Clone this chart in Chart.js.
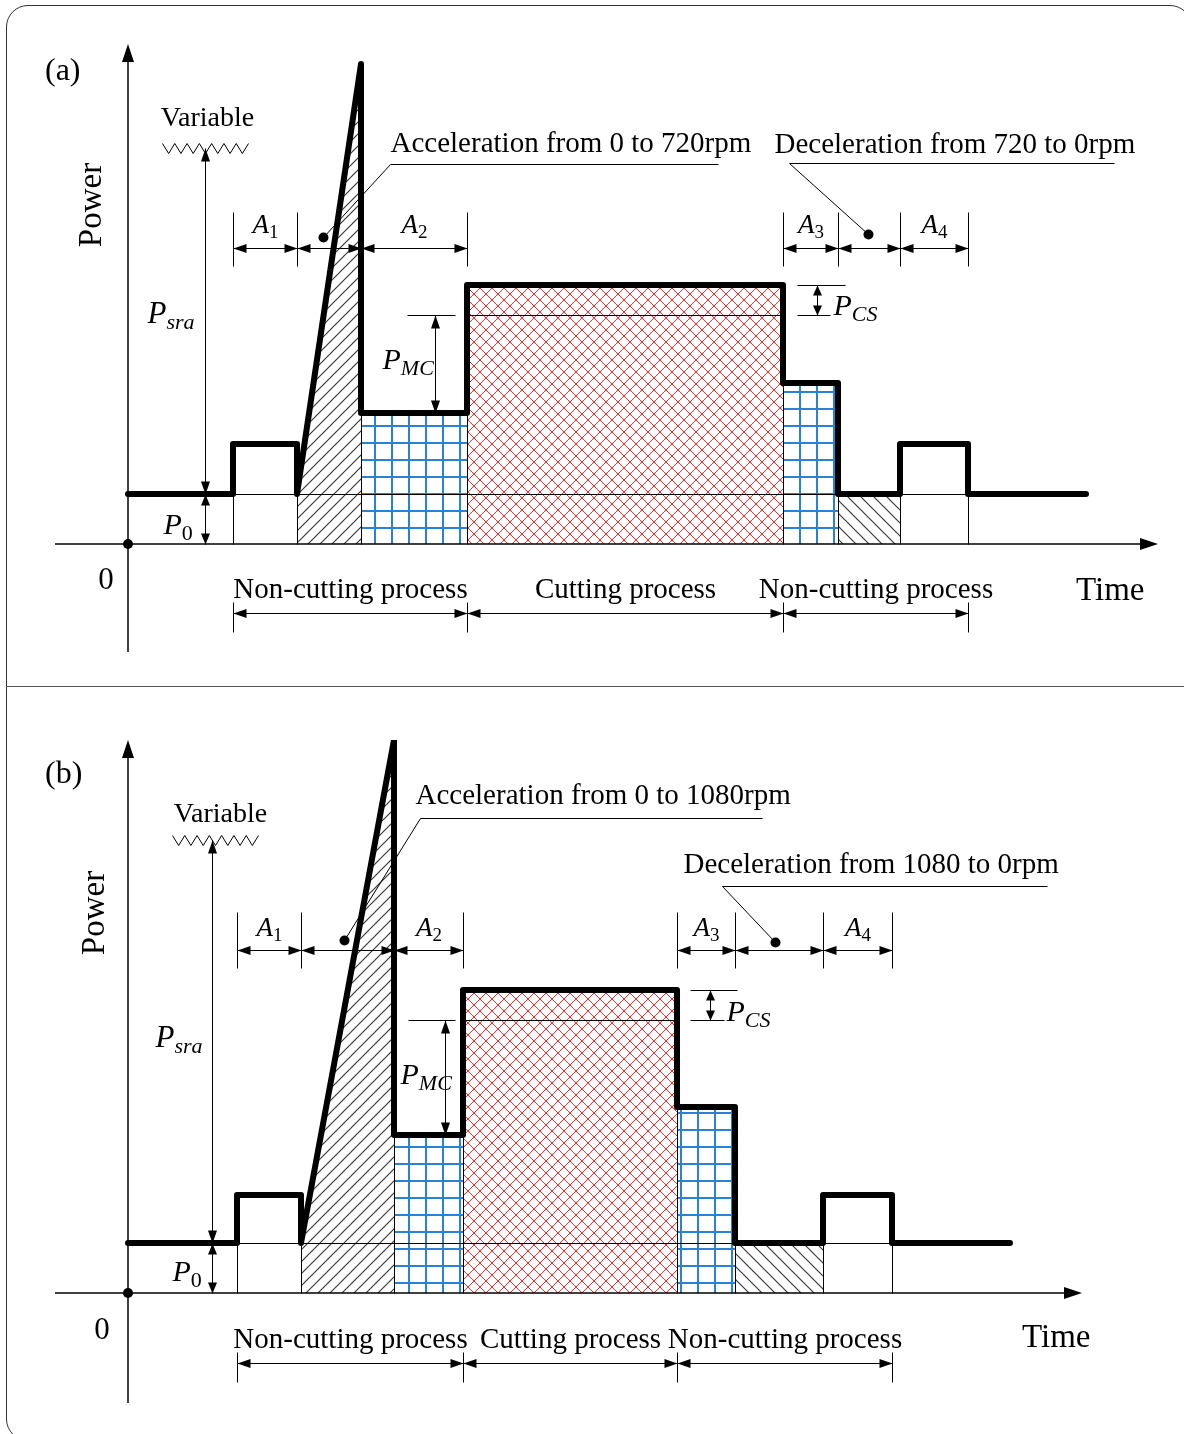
<!DOCTYPE html>
<html>
<head>
<meta charset="utf-8">
<script src="https://cdn.jsdelivr.net/npm/chart.js@4.4.0/dist/chart.umd.min.js"></script>
<style>
  body { margin:0; background:#fff; width:1184px; height:1434px; overflow:hidden; position:relative; }
  #frame { position:absolute; left:6px; top:5px; width:1186px; height:1436px; border:1.5px solid #333; border-radius:22px; box-sizing:border-box; }
  #divider { position:absolute; left:6px; top:686px; width:1184px; border-top:1.5px solid #555; }
  canvas { position:absolute; left:0; }
  #chartA { top:0; }
  #chartB { top:687px; }
</style>
</head>
<body>
<div id="frame"></div>
<div id="divider"></div>
<canvas id="chartA" width="1184" height="687"></canvas>
<canvas id="chartB" width="1184" height="747"></canvas>
<script>
// power curve of each panel (time, power) in schematic units
const timeA  = [0, 10.5, 10.5, 16.9, 16.9, 23.3, 23.3, 33.9, 33.9, 65.5, 65.5, 71.0, 71.0, 77.2, 77.2, 84.0, 84.0, 95.8];
const powerA = [5, 5, 10, 10, 5, 48, 13.1, 13.1, 25.9, 25.9, 16.1, 16.1, 5, 5, 10, 10, 5, 5];
const timeB  = [0, 10.9, 10.9, 17.3, 17.3, 26.6, 26.6, 33.5, 33.5, 54.9, 54.9, 60.7, 60.7, 69.5, 69.5, 76.4, 76.4, 88.2];
const powerB = [5, 5, 9.8, 9.8, 5, 55.3, 15.8, 15.8, 30.3, 30.3, 18.6, 18.6, 5, 5, 9.8, 9.8, 5, 5];
const levelsA = [5, 22.9];   // P0, cutting level minus P_CS
const levelsB = [5, 27.3];

const processNames = ['Non-cutting process', 'Cutting process', 'Non-cutting process'];
const stageNames = [['A','1'], null, ['A','2'], ['A','3'], null, ['A','4']];
const accelTexts = ['Acceleration from 0 to 720rpm', 'Acceleration from 0 to 1080rpm'];
const decelTexts = ['Deceleration from 720 to 0rpm', 'Deceleration from 1080 to 0rpm'];
const axisTitles = ['Power', 'Time', '0'];
const panelTags = ['(a)', '(b)'];

const FF = '"Liberation Serif","Times New Roman",serif';

function seg(ctx, x1, y1, x2, y2) {
  ctx.beginPath(); ctx.moveTo(x1, y1); ctx.lineTo(x2, y2); ctx.stroke();
}
function head(ctx, x, y, dx, dy, L, W) {
  L = L || 13; W = W || 4.5;
  ctx.beginPath();
  ctx.moveTo(x, y);
  ctx.lineTo(x - dx*L - dy*W, y - dy*L + dx*W);
  ctx.lineTo(x - dx*L + dy*W, y - dy*L - dx*W);
  ctx.closePath(); ctx.fill();
}
function dimH(ctx, x1, x2, y) {
  seg(ctx, x1, y, x2, y); head(ctx, x1, y, -1, 0); head(ctx, x2, y, 1, 0);
}
function dimV(ctx, x, y1, y2, L) {
  seg(ctx, x, y1, x, y2); head(ctx, x, y1, 0, -1, L); head(ctx, x, y2, 0, 1, L);
}
function text(ctx, s, x, y, size, align) {
  ctx.font = size + 'px ' + FF; ctx.textAlign = align || 'left'; ctx.textBaseline = 'alphabetic';
  ctx.fillText(s, x, y);
}
function sym(ctx, base, sub, x, y, size, subItalic, align) {
  const subSize = Math.round(size * 0.72);
  ctx.textBaseline = 'alphabetic'; ctx.textAlign = 'left';
  ctx.font = 'italic ' + size + 'px ' + FF;
  const w1 = ctx.measureText(base).width;
  ctx.font = (subItalic ? 'italic ' : '') + subSize + 'px ' + FF;
  const w2 = ctx.measureText(sub).width;
  const x0 = align === 'center' ? x - (w1 + w2) / 2 : x;
  ctx.font = 'italic ' + size + 'px ' + FF;
  ctx.fillText(base, x0, y);
  ctx.font = (subItalic ? 'italic ' : '') + subSize + 'px ' + FF;
  ctx.fillText(sub, x0 + w1, y + size * 0.22);
}

const schematic = {
  id: 'schematic',
  beforeDatasetDraw(chart, args, o) {
    if (args.index !== 0) return;
    const ctx = chart.ctx, X = v => chart.scales.x.getPixelForValue(v), Y = v => chart.scales.y.getPixelForValue(v);
    const d = chart.data.datasets[0].data;
    ctx.save();
    ctx.translate(0.5, 0.5);
    ctx.strokeStyle = '#000'; ctx.lineWidth = 1;
    seg(ctx, X(d[1].x), Y(o.levels[0]), X(d[15].x), Y(o.levels[0]));
    for (let i = 1; i < d.length - 2; i++) {
      if (d[i].x === d[i+1].x) seg(ctx, X(d[i].x), Y(0), X(d[i].x), Y(Math.min(d[i].y, d[i+1].y)));
    }
    seg(ctx, X(d[8].x), Y(o.levels[1]), X(d[9].x), Y(o.levels[1]));
    ctx.restore();
  },
  afterDatasetsDraw(chart, args, o) {
    const ctx = chart.ctx, sx = chart.scales.x, sy = chart.scales.y;
    const X = v => sx.getPixelForValue(v), Y = v => sy.getPixelForValue(v);
    const d = chart.data.datasets[0].data;
    ctx.save();
    ctx.strokeStyle = '#000'; ctx.fillStyle = '#000';

    // axes
    ctx.lineWidth = 1.5;
    seg(ctx, X(sx.min), Y(0), X(sx.max) - 4, Y(0));
    head(ctx, X(sx.max), Y(0), 1, 0, 18, 6);
    seg(ctx, X(0), Y(sy.min), X(0), Y(sy.max) + 4);
    head(ctx, X(0), Y(sy.max), 0, -1, 18, 6);
    ctx.beginPath(); ctx.arc(X(0), Y(0), 5, 0, Math.PI * 2); ctx.fill();

    text(ctx, o.tag, X(o.tagPos[0]), Y(o.tagPos[1]), 32);
    text(ctx, axisTitles[2], X(o.zero[0]), Y(o.zero[1]), 31, 'center');
    text(ctx, axisTitles[1], X(o.time[0]), Y(o.time[1]), 33);
    ctx.save();
    ctx.translate(X(o.power[0]), Y(o.power[1])); ctx.rotate(-Math.PI / 2);
    ctx.font = '33px ' + FF; ctx.textAlign = 'center'; ctx.textBaseline = 'middle';
    ctx.fillText(axisTitles[0], 0, 0);
    ctx.restore();

    ctx.translate(0.5, 0.5);
    // variable peak, P_sra and P0
    ctx.lineWidth = 1;
    text(ctx, 'Variable', X(o.variable[0]), Y(o.variable[1]), 28, 'center');
    const zx0 = X(o.zig[0]), zx1 = X(o.zig[1]), zy = Y(o.zig[2]), n = 7, st = (zx1 - zx0) / n;
    ctx.beginPath(); ctx.moveTo(zx0, zy - 5);
    for (let k = 0; k < n; k++) { ctx.lineTo(zx0 + st * (k + 0.5), zy + 5); ctx.lineTo(zx0 + st * (k + 1), zy - 5); }
    ctx.stroke();
    dimV(ctx, X(o.sraX), zy, Y(o.levels[0]));
    dimV(ctx, X(o.sraX), Y(o.levels[0]), Y(0), 11);
    sym(ctx, 'P', 'sra', X(o.sraLabel[0]), Y(o.sraLabel[1]), 31, true);
    sym(ctx, 'P', '0', X(o.p0Label[0]), Y(o.p0Label[1]), 30, false);

    // stage dimensions A1..A4
    const groups = [[d[1].x, d[3].x, d[5].x, d[7].x], [d[9].x, d[11].x, d[13].x, d[15].x]];
    groups.forEach((g, gi) => {
      g.forEach(x => seg(ctx, X(x), Y(o.ext[0]), X(x), Y(o.ext[1])));
      for (let k = 0; k < 3; k++) {
        dimH(ctx, X(g[k]), X(g[k+1]), Y(o.dimY));
        const nm = stageNames[gi * 3 + k];
        if (nm) sym(ctx, nm[0], nm[1], (X(g[k]) + X(g[k+1])) / 2, Y(o.aLabelY), 27, false, 'center');
      }
    });

    // leaders for acceleration / deceleration
    [o.accel, o.decel].forEach(L => {
      text(ctx, L.text, X(L.t[0]), Y(L.t[1]), 29);
      ctx.beginPath();
      ctx.moveTo(X(L.dot[0]), Y(L.dot[1])); ctx.lineTo(X(L.elbow[0]), Y(L.elbow[1])); ctx.lineTo(X(L.end), Y(L.elbow[1]));
      ctx.stroke();
      ctx.beginPath(); ctx.arc(X(L.dot[0]), Y(L.dot[1]), 5, 0, Math.PI * 2); ctx.fill();
    });

    // P_MC
    seg(ctx, X(o.pmc.ext[0]), Y(o.levels[1]), X(o.pmc.ext[1]), Y(o.levels[1]));
    dimV(ctx, X(o.pmc.x), Y(o.levels[1]), Y(d[6].y));
    sym(ctx, 'P', 'MC', X(o.pmc.label[0]), Y(o.pmc.label[1]), 30, true);

    // P_CS
    seg(ctx, X(o.pcs.extTop[0]), Y(d[8].y), X(o.pcs.extTop[1]), Y(d[8].y));
    seg(ctx, X(o.pcs.extBot[0]), Y(o.levels[1]), X(o.pcs.extBot[1]), Y(o.levels[1]));
    dimV(ctx, X(o.pcs.x), Y(d[8].y), Y(o.levels[1]), 10);
    sym(ctx, 'P', 'CS', X(o.pcs.label[0]), Y(o.pcs.label[1]), 30, true);

    // process spans
    const ph = [d[1].x, d[8].x, d[9].x, d[15].x];
    ph.forEach(x => seg(ctx, X(x), Y(o.proc.ext[0]), X(x), Y(o.proc.ext[1])));
    for (let k = 0; k < 3; k++) {
      dimH(ctx, X(ph[k]), X(ph[k+1]), Y(o.proc.arrowY));
      text(ctx, processNames[k], (X(ph[k]) + X(ph[k+1])) / 2, Y(o.proc.labelY), 29, 'center');
    }
    ctx.restore();
  }
};

function patterns(ctx) {
  function make(size, draw) {
    const c = document.createElement('canvas'); c.width = c.height = size;
    draw(c.getContext('2d'), size);
    return ctx.createPattern(c, 'repeat');
  }
  return {
    fwd: make(12, (g, s) => {
      g.strokeStyle = '#3a3a3a'; g.lineWidth = 1.2;
      [[0, s, s, 0], [-s/2, s/2, s/2, -s/2], [s/2, s*1.5, s*1.5, s/2]].forEach(l => seg(g, l[0], l[1], l[2], l[3]));
    }),
    back: make(13, (g, s) => {
      g.strokeStyle = '#3a3a3a'; g.lineWidth = 1.2;
      [[0, 0, s, s], [-s/2, s/2, s/2, s*1.5], [s/2, -s/2, s*1.5, s/2]].forEach(l => seg(g, l[0], l[1], l[2], l[3]));
    }),
    grid: make(17, (g, s) => {
      g.fillStyle = '#2a82d6'; g.fillRect(0, 0, 2, s); g.fillRect(0, 0, s, 2);
    }),
    cross: make(12, (g, s) => {
      g.strokeStyle = '#ff2a2a'; g.lineWidth = 1;
      seg(g, 0, 0, s, s); seg(g, s, 0, 0, s);
    })
  };
}

function makePanel(id, time, power, levels, pad, xr, yr, o) {
  const canvas = document.getElementById(id);
  const ctx = canvas.getContext('2d');
  const pat = patterns(ctx);
  const pts = time.map((t, i) => ({ x: t, y: power[i] }));
  const area = (slice, bg) => ({ data: slice, fill: 'origin', backgroundColor: bg, borderColor: 'transparent', borderWidth: 0, pointRadius: 0 });
  o.levels = levels;
  return new Chart(ctx, {
    type: 'line',
    data: {
      datasets: [
        { data: pts, borderColor: '#000', borderWidth: 6, fill: false, pointRadius: 0,
          borderJoinStyle: 'round', borderCapStyle: 'round', tension: 0 },
        area(pts.slice(4, 6), pat.fwd),
        area(pts.slice(6, 8), pat.grid),
        area(pts.slice(8, 10), pat.cross),
        area(pts.slice(10, 12), pat.grid),
        area(pts.slice(12, 14), pat.back)
      ]
    },
    options: {
      responsive: false, animation: false, devicePixelRatio: 1,
      layout: { padding: pad },
      scales: {
        x: { type: 'linear', min: xr[0], max: xr[1], display: false },
        y: { type: 'linear', min: yr[0], max: yr[1], display: false }
      },
      plugins: { legend: { display: false }, tooltip: { enabled: false }, schematic: o }
    },
    plugins: [schematic]
  });
}

makePanel('chartA', timeA, powerA, levelsA,
  { left: 55, right: 26, top: 44, bottom: 35 }, [-7.3, 103], [-10.8, 50], {
    tag: panelTags[0], tagPos: [-8.3, 46.4], zero: [-2.2, -4.5], time: [94.8, -5.6], power: [-3.6, 33.9],
    variable: [7.9, 41.9], zig: [3.4, 12, 39.6], sraX: 7.7, sraLabel: [1.9, 22.2], p0Label: [3.5, 1.1],
    dimY: 29.6, ext: [33.2, 27.8], aLabelY: 31.2,
    accel: { text: accelTexts[0], t: [26.2, 39.3], dot: [19.5, 30.7], elbow: [26.2, 38], end: 59 },
    decel: { text: decelTexts[0], t: [64.6, 39.2], dot: [74, 31], elbow: [66.1, 38.1], end: 98.6 },
    pmc: { x: 30.7, ext: [27.9, 32.7], label: [25.4, 17.6] },
    pcs: { x: 68.9, extTop: [66.9, 71.7], extBot: [66.9, 70.2], label: [70.5, 23] },
    proc: { labelY: -5.3, arrowY: -6.9, ext: [-5.8, -8.8] }
  });

makePanel('chartB', timeB, powerB, levelsB,
  { left: 55, right: 102, top: 53, bottom: 31 }, [-7.3, 95.4], [-11, 55.3], {
    tag: panelTags[1], tagPos: [-8.3, 51.0], zero: [-2.6, -4.6], time: [89.4, -5.4], power: [-3.3, 38],
    variable: [9.2, 47.2], zig: [4.4, 13, 45.3], sraX: 8.4, sraLabel: [2.7, 24.7], p0Label: [4.4, 1.3],
    dimY: 34.3, ext: [38.1, 32.5], aLabelY: 35.8,
    accel: { text: accelTexts[1], t: [28.7, 49], dot: [21.6, 35.3], elbow: [29.2, 47.5], end: 63.4 },
    decel: { text: decelTexts[1], t: [55.5, 42.1], dot: [64.7, 35.1], elbow: [59.4, 40.7], end: 91.9 },
    pmc: { x: 31.7, ext: [28, 32.7], label: [27.2, 21] },
    pcs: { x: 58.2, extTop: [56.2, 60.9], extBot: [56.2, 59.6], label: [59.8, 27.3] },
    proc: { labelY: -5.4, arrowY: -7, ext: [-5.9, -8.9] }
  });
</script>
</body>
</html>
